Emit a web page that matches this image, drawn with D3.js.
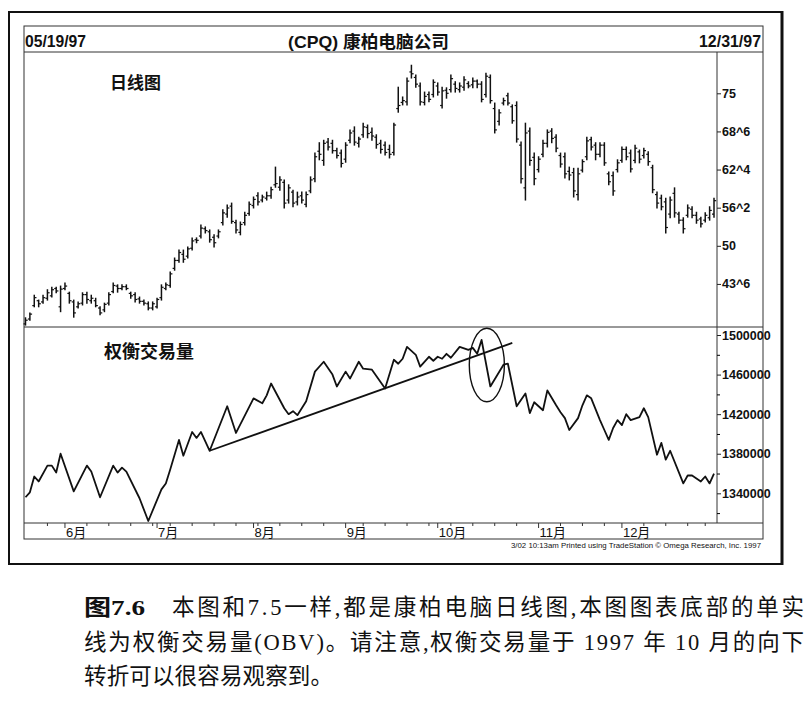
<!DOCTYPE html>
<html>
<head>
<meta charset="utf-8">
<script src="https://cdn.jsdelivr.net/npm/d3@7"></script>
<style>
body { margin: 0; background: #fff; }
svg text { font-family: "Liberation Sans", Arial, "Noto Sans CJK SC", sans-serif; fill: #111; }
</style>
</head>
<body>
<svg width="807" height="703"></svg>
<script>
// trading calendar
const startDate = '1997-05-19';
const endDate = '1997-12-31';
const holidays = ['1997-05-26', '1997-07-04', '1997-09-01', '1997-11-27', '1997-12-25'];
const monthLabels = ['6月', '7月', '8月', '9月', '10月', '11月', '12月'];

// daily bars
const high = [38.2, 39.0, 41.9, 41.1, 41.9, 42.8, 43.2, 43.2, 43.4, 43.9,
	42.4, 41.1, 40.8, 42.3, 42.4, 41.9, 41.4, 40.0, 40.6, 42.3,
	43.9, 43.6, 43.6, 43.6, 42.4, 42.3, 41.6, 41.1, 40.8, 40.8,
	41.4, 43.6, 43.9, 45.7, 48.0, 49.3, 49.3, 49.8, 51.3, 51.3,
	53.4, 53.1, 52.6, 51.8, 52.6, 55.9, 56.7, 57.0, 54.2, 53.9,
	55.5, 57.2, 58.0, 58.7, 58.3, 58.8, 59.6, 62.9, 61.3, 60.8,
	60.0, 59.1, 58.8, 58.8, 58.8, 61.3, 65.2, 66.9, 67.3, 67.6,
	67.3, 66.0, 65.7, 66.9, 69.0, 69.5, 67.8, 70.1, 69.8, 69.3,
	68.2, 67.3, 67.0, 66.5, 70.1, 76.0, 74.4, 77.5, 79.6, 78.0,
	76.7, 75.2, 75.2, 77.2, 76.7, 76.0, 75.9, 78.0, 76.9, 76.7,
	77.7, 76.9, 77.5, 77.2, 76.9, 78.3, 78.0, 73.4, 72.3, 74.2,
	75.0, 73.1, 73.6, 67.0, 70.1, 69.3, 65.2, 64.6, 67.3, 69.0,
	69.2, 68.2, 65.2, 65.2, 62.9, 62.7, 62.7, 64.1, 67.8, 67.8,
	66.9, 66.9, 66.9, 62.1, 62.1, 64.1, 66.2, 66.2, 65.7, 66.5,
	65.7, 66.0, 65.4, 63.2, 58.8, 58.3, 57.8, 58.0, 59.5, 55.5,
	54.6, 56.7, 56.4, 55.5, 54.7, 55.4, 56.4, 57.8];
const low = [37.0, 37.8, 40.0, 40.0, 40.6, 41.1, 41.6, 42.3, 39.2, 42.8,
	40.6, 38.3, 39.8, 40.3, 40.6, 40.6, 40.0, 38.7, 39.2, 40.3,
	42.3, 42.4, 42.8, 42.8, 41.4, 40.8, 40.6, 40.3, 39.5, 39.5,
	39.8, 41.1, 42.8, 43.2, 46.0, 47.3, 47.3, 48.0, 49.3, 50.5,
	51.3, 52.1, 50.6, 49.8, 51.3, 53.4, 54.7, 53.7, 52.1, 51.8,
	53.4, 55.0, 56.2, 56.7, 57.2, 57.5, 57.8, 59.6, 59.1, 56.2,
	57.0, 56.4, 56.7, 57.0, 56.4, 58.7, 60.5, 64.1, 63.2, 65.7,
	65.2, 64.4, 62.9, 63.7, 66.9, 66.5, 66.2, 67.8, 67.7, 67.3,
	66.0, 65.2, 64.9, 64.4, 64.9, 71.9, 73.1, 73.1, 77.5, 76.0,
	73.1, 73.1, 73.6, 74.4, 74.7, 72.6, 74.2, 75.2, 75.2, 75.2,
	75.5, 75.9, 75.9, 75.9, 73.6, 74.4, 73.4, 68.5, 69.8, 73.1,
	73.1, 70.1, 67.0, 60.3, 57.5, 63.2, 60.0, 62.1, 64.6, 66.2,
	66.9, 65.4, 62.9, 61.1, 60.8, 58.0, 57.5, 62.1, 64.1, 65.7,
	64.1, 64.6, 63.2, 60.0, 58.3, 62.1, 63.7, 64.1, 62.1, 63.6,
	63.6, 64.4, 63.2, 58.7, 56.2, 55.9, 52.1, 54.6, 54.7, 53.7,
	52.1, 54.7, 54.6, 53.7, 53.1, 53.9, 54.2, 54.7];
const open = [37.2, 38.0, 40.2, 41.0, 40.8, 41.4, 41.8, 43.0, 40.0, 43.0,
	42.2, 40.8, 40.0, 40.6, 42.0, 41.0, 41.0, 39.8, 39.5, 40.6,
	42.5, 43.4, 43.0, 43.3, 42.2, 42.0, 41.3, 40.9, 40.5, 39.8,
	40.0, 41.5, 43.0, 43.5, 46.3, 47.6, 48.6, 48.3, 49.6, 51.0,
	51.6, 52.8, 52.3, 51.4, 51.6, 53.8, 55.2, 56.5, 53.8, 52.2,
	53.8, 55.3, 56.6, 58.2, 57.5, 57.8, 58.2, 60.0, 59.6, 60.4,
	57.5, 58.8, 57.2, 58.2, 56.8, 59.0, 61.0, 65.5, 64.0, 67.0,
	66.8, 65.6, 65.2, 64.2, 67.3, 68.8, 66.8, 68.2, 69.4, 68.6,
	67.8, 66.8, 66.5, 65.8, 65.3, 72.5, 73.5, 73.6, 78.5, 77.6,
	76.2, 73.5, 74.8, 74.8, 76.2, 73.0, 75.5, 75.6, 76.5, 75.6,
	76.0, 76.6, 76.4, 77.0, 76.5, 74.8, 77.6, 72.5, 70.4, 73.4,
	74.6, 72.8, 73.0, 66.5, 59.5, 68.8, 64.5, 62.5, 65.0, 66.8,
	68.8, 67.8, 64.8, 64.6, 62.2, 62.0, 58.4, 62.4, 64.6, 67.4,
	66.5, 65.0, 66.5, 61.8, 61.5, 62.5, 64.0, 65.8, 65.2, 64.0,
	65.4, 64.8, 65.0, 62.8, 58.4, 57.8, 57.2, 55.2, 58.6, 55.2,
	54.2, 55.0, 56.0, 55.0, 54.4, 54.2, 54.6, 55.2];
const close = [37.8, 38.8, 41.5, 40.5, 41.5, 42.3, 42.8, 42.6, 42.9, 43.4,
	41.0, 39.0, 40.5, 42.0, 41.2, 41.4, 40.2, 39.0, 40.4, 42.0,
	43.5, 43.0, 43.3, 43.0, 41.8, 41.2, 40.9, 40.6, 39.8, 40.5,
	41.2, 43.2, 43.6, 45.4, 47.6, 48.9, 47.8, 49.5, 50.8, 50.9,
	52.9, 52.5, 51.0, 50.5, 52.3, 55.4, 56.2, 54.0, 52.6, 53.5,
	55.0, 56.8, 57.6, 57.2, 58.0, 58.2, 59.2, 60.2, 60.8, 57.0,
	59.5, 57.0, 58.0, 57.5, 58.4, 60.8, 64.6, 65.0, 66.8, 66.2,
	65.6, 64.8, 63.5, 66.5, 68.5, 67.0, 67.5, 69.5, 68.4, 68.0,
	66.6, 65.8, 65.3, 65.0, 69.8, 73.0, 73.8, 77.0, 78.2, 76.5,
	73.6, 74.5, 74.0, 76.8, 75.2, 75.4, 75.0, 77.4, 75.8, 76.2,
	77.2, 76.2, 77.0, 76.5, 74.0, 77.8, 73.8, 69.0, 71.8, 73.8,
	73.4, 70.5, 67.5, 61.0, 68.5, 64.0, 61.0, 64.2, 66.8, 68.6,
	67.6, 66.0, 63.4, 61.8, 61.6, 59.0, 61.8, 63.8, 67.2, 66.2,
	65.0, 66.5, 63.6, 60.5, 59.0, 63.6, 65.8, 64.6, 62.6, 66.0,
	64.2, 65.6, 63.8, 59.2, 57.0, 56.4, 53.0, 57.5, 55.4, 54.2,
	52.8, 56.2, 55.0, 54.2, 53.6, 55.0, 55.8, 57.4];

// OBV turning points: bar index and value
const obvIdx = [0, 1, 2, 3, 5, 6, 7, 8, 11, 14, 15, 17, 20, 21, 22, 23, 26, 28, 31, 32,
	33, 35, 36, 38, 39, 40, 42, 46, 48, 52, 54, 55, 56, 59, 60, 61, 62, 64, 66, 68,
	70, 71, 73, 74, 76, 77, 79, 82, 84, 85, 86, 87, 89, 90, 92, 93, 94, 95, 96, 97,
	99, 101, 102, 103, 104, 106, 109, 110, 112, 114, 115, 116, 118, 119, 121, 122, 123, 124, 126, 127,
	128, 129, 131, 132, 133, 134, 135, 136, 137, 138, 140, 141, 142, 144, 145, 146, 147, 150, 151, 152,
	154, 155, 156, 157];
const obvVal = [1336000, 1341000, 1357000, 1352000, 1368000, 1368000, 1361000, 1380000, 1342000, 1368000,
	1362000, 1336000, 1368000, 1361000, 1366000, 1362000, 1335000, 1312000, 1344000, 1350000,
	1364000, 1394000, 1378000, 1402000, 1396000, 1402000, 1383000, 1428000, 1401000, 1436000,
	1431000, 1439000, 1451000, 1426000, 1420000, 1423000, 1419000, 1433000, 1463000, 1473000,
	1460000, 1448000, 1463000, 1456000, 1473000, 1466000, 1465000, 1446000, 1475000, 1471000,
	1476000, 1488000, 1480000, 1468000, 1478000, 1474000, 1478000, 1476000, 1481000, 1477000,
	1488000, 1485000, 1487000, 1481000, 1495000, 1448000, 1470000, 1471000, 1428000, 1441000,
	1421000, 1432000, 1424000, 1444000, 1429000, 1422000, 1416000, 1404000, 1416000, 1429000,
	1439000, 1436000, 1414000, 1404000, 1394000, 1406000, 1414000, 1409000, 1420000, 1414000,
	1417000, 1426000, 1417000, 1379000, 1391000, 1374000, 1383000, 1350000, 1358000, 1358000,
	1352000, 1357000, 1350000, 1360000];

// hand drawn trend line and the circle round the October break
const trendIdx = [42, 111];
const trendVal = [1383000, 1492000];
const ringIdx = [101.2, 109.2];
const ringVal = [1432600, 1506800];

const priceTicks = [43.75, 50, 56.25, 62.5, 68.75, 75];
const obvTicks = [1340000, 1380000, 1420000, 1460000, 1500000];
const obvMinor = [1320000, 1360000, 1400000, 1440000, 1480000];

const svg = d3.select('svg');

// frame layout
const inL = 24, inR = 763, inT = 26, inB = 539;
const headB = 52, split = 327, bandT = 523, axisX = 717;

const parse = d3.timeParse('%Y-%m-%d');
const fmt = d3.timeFormat('%Y-%m-%d');
const days = d3.timeDay
	.range(parse(startDate), d3.timeDay.offset(parse(endDate), 1))
	.filter((d) => d.getDay() !== 0 && d.getDay() !== 6 && !holidays.includes(fmt(d)));

const x = d3.scaleLinear().domain([0, days.length - 1]).range([25.5, 714]);
const yP = d3.scaleLinear().domain([36.69, 81.77]).range([split, headB]);
const yO = d3.scaleLinear().domain([1310000, 1508100]).range([bandT, split]);

// frames
svg.append('rect').attr('x', 9).attr('y', 12).attr('width', 773).attr('height', 552)
	.attr('fill', 'none').attr('stroke', '#111').attr('stroke-width', 2);
svg.append('line').attr('x1', 782).attr('x2', 782).attr('y1', 11).attr('y2', 565)
	.attr('stroke', '#111').attr('stroke-width', 3);
svg.append('rect').attr('x', inL).attr('y', inT).attr('width', inR - inL).attr('height', inB - inT)
	.attr('fill', 'none').attr('stroke', '#333').attr('stroke-width', 1);
[headB, split, bandT].forEach((yy) => {
	svg.append('line').attr('x1', inL).attr('x2', inR).attr('y1', yy).attr('y2', yy)
		.attr('stroke', '#333').attr('stroke-width', 1);
});
svg.append('line').attr('x1', axisX).attr('x2', axisX).attr('y1', headB).attr('y2', bandT)
	.attr('stroke', '#333').attr('stroke-width', 1);

// header
svg.append('text').attr('x', 25).attr('y', 47).attr('font-size', 16).attr('font-weight', 'bold')
	.attr('textLength', 61).attr('lengthAdjust', 'spacingAndGlyphs').text('05/19/97');
svg.append('text').attr('x', 288).attr('y', 48).attr('font-size', 17).attr('font-weight', 'bold')
	.attr('textLength', 161).attr('lengthAdjust', 'spacingAndGlyphs').text('(CPQ) 康柏电脑公司');
svg.append('text').attr('x', 761).attr('y', 47).attr('text-anchor', 'end').attr('font-size', 16)
	.attr('font-weight', 'bold').attr('textLength', 62).attr('lengthAdjust', 'spacingAndGlyphs').text('12/31/97');

// panel titles
svg.append('text').attr('x', 110).attr('y', 89).attr('font-size', 17).attr('font-weight', 'bold')
	.style('font-family', '"Noto Sans CJK SC", sans-serif').text('日线图');
svg.append('text').attr('x', 104).attr('y', 358).attr('font-size', 18).attr('font-weight', 'bold')
	.style('font-family', '"Noto Sans CJK SC", sans-serif').text('权衡交易量');

// price bars
const bars = svg.append('g').attr('stroke', '#111').attr('stroke-width', 1.5);
days.forEach((d, i) => {
	const cx = x(i);
	bars.append('line').attr('x1', cx).attr('x2', cx).attr('y1', yP(high[i]) - 0.5).attr('y2', yP(low[i]) + 0.5);
	bars.append('line').attr('x1', cx - 2).attr('x2', cx).attr('y1', yP(open[i])).attr('y2', yP(open[i]))
		.attr('stroke-width', 1.2);
	bars.append('line').attr('x1', cx).attr('x2', cx + 2.2).attr('y1', yP(close[i])).attr('y2', yP(close[i]))
		.attr('stroke-width', 1.2);
});

// y axes
const eighths = (v) => {
	const w = Math.floor(v);
	const f = Math.round((v - w) * 8);
	return f ? w + '^' + f : String(w);
};
const axisFont = '"Liberation Sans Narrow", "Arial Narrow", "Liberation Sans", sans-serif';

const gP = svg.append('g').attr('transform', `translate(${axisX},0)`)
	.call(d3.axisRight(yP).tickValues(priceTicks).tickFormat(eighths).tickSize(4).tickPadding(1));
const gO = svg.append('g').attr('transform', `translate(${axisX},0)`)
	.call(d3.axisRight(yO).tickValues(obvTicks).tickFormat(d3.format('d')).tickSize(4).tickPadding(1));
svg.append('g').attr('transform', `translate(${axisX},0)`)
	.call(d3.axisRight(yO).tickValues(obvMinor).tickFormat('').tickSize(3))
	.select('.domain').remove();
[gP, gO].forEach((g) => {
	g.select('.domain').remove();
	g.selectAll('line').attr('stroke', '#222');
	g.selectAll('text').attr('font-size', 12.5).attr('font-weight', 'bold')
		.style('font-family', axisFont).attr('fill', '#111');
});

// OBV line
const obvPts = obvIdx.map((k, j) => [x(k), yO(obvVal[j])]);
svg.append('path').attr('d', d3.line()(obvPts)).attr('fill', 'none')
	.attr('stroke', '#111').attr('stroke-width', 1.8).attr('stroke-linejoin', 'round');

svg.append('line')
	.attr('x1', x(trendIdx[0])).attr('y1', yO(trendVal[0]))
	.attr('x2', x(trendIdx[1])).attr('y2', yO(trendVal[1]))
	.attr('stroke', '#111').attr('stroke-width', 1.8);

svg.append('ellipse')
	.attr('cx', (x(ringIdx[0]) + x(ringIdx[1])) / 2)
	.attr('cy', (yO(ringVal[0]) + yO(ringVal[1])) / 2)
	.attr('rx', Math.abs(x(ringIdx[1]) - x(ringIdx[0])) / 2)
	.attr('ry', Math.abs(yO(ringVal[0]) - yO(ringVal[1])) / 2)
	.attr('fill', 'none').attr('stroke', '#111').attr('stroke-width', 1.4);

// date band ticks
const band = svg.append('g').attr('stroke', '#333').attr('stroke-width', 1);
let m = 0;
days.forEach((d, i) => {
	if (i === 0) return;
	const prev = days[i - 1];
	if (d.getMonth() !== prev.getMonth()) {
		band.append('line').attr('x1', x(i)).attr('x2', x(i)).attr('y1', bandT).attr('y2', bandT + 5);
		svg.append('text').attr('x', x(i) + 1).attr('y', 536.5).attr('font-size', 13)
			.style('font-family', axisFont + ', "Noto Sans CJK SC"').text(monthLabels[m++]);
	} else if (d.getDay() < prev.getDay()) {
		band.append('line').attr('x1', x(i)).attr('x2', x(i)).attr('y1', bandT).attr('y2', bandT + 3);
	}
});

svg.append('text').attr('x', 511).attr('y', 548).attr('font-size', 7)
	.attr('textLength', 250).attr('lengthAdjust', 'spacingAndGlyphs')
	.text('3/02 10:13am Printed using TradeStation © Omega Research, Inc. 1997');

// caption
const capFont = '"Liberation Serif", "Noto Sans CJK SC", serif';
svg.append('text').attr('x', 84).attr('y', 615).attr('font-size', 22).attr('font-weight', 'bold')
	.style('font-family', capFont).attr('textLength', 61).attr('lengthAdjust', 'spacingAndGlyphs').text('图7.6');
svg.append('text').attr('x', 172).attr('y', 615).attr('font-size', 22.5)
	.style('font-family', capFont).attr('textLength', 632).attr('lengthAdjust', 'spacing')
	.text('本图和7.5一样,都是康柏电脑日线图,本图图表底部的单实');
svg.append('text').attr('x', 84).attr('y', 650).attr('font-size', 22.5)
	.style('font-family', capFont).attr('textLength', 720).attr('lengthAdjust', 'spacing')
	.text('线为权衡交易量(OBV)。请注意,权衡交易量于 1997 年 10 月的向下');
svg.append('text').attr('x', 84).attr('y', 684).attr('font-size', 22.5)
	.style('font-family', capFont).attr('textLength', 249).attr('lengthAdjust', 'spacing')
	.text('转折可以很容易观察到。');
</script>
</body>
</html>
